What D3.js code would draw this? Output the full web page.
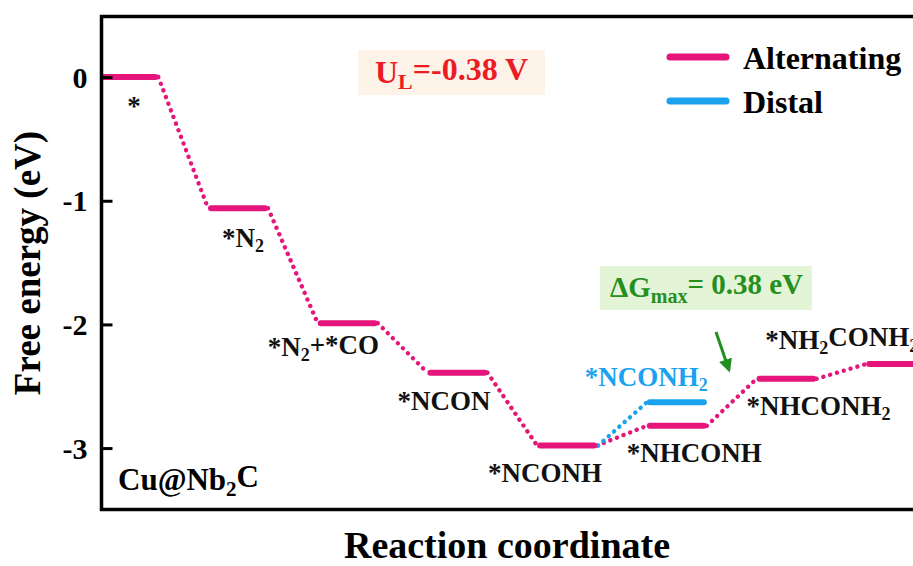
<!DOCTYPE html>
<html>
<head>
<meta charset="utf-8">
<script src="https://cdn.jsdelivr.net/npm/d3@7"></script>
<style>
  body { margin: 0; background: #fff; }
  svg { display: block; }
</style>
</head>
<body>
<div id="chart"></div>
<script>
// Reaction intermediates, in order along the reaction coordinate ("_x" = subscript x)
const states = ["*", "*N_2", "*N_2+*CO", "*NCON", "*NCONH", "*NHCONH", "*NHCONH_2", "*NH_2CONH_2"];
// Free energy of each intermediate on the alternating path (eV)
const alternating = [0, -1.06, -1.99, -2.39, -2.98, -2.82, -2.44, -2.32];
// Distal branch: step index and energy
const distalSteps = [4, 5];
const distalValues = [-2.98, -2.63];
const distalLabel = "*NCONH_2";
const yTicks = [0, -1, -2, -3];
const yTickLabels = ["0", "-1", "-2", "-3"];

const W = 913, H = 566;
const pink = "#e6157b", blue = "#1aa2ef";

const svg = d3.select("#chart").append("svg")
    .attr("width", W).attr("height", H)
    .attr("font-family", '"Liberation Serif", "Times New Roman", serif')
    .attr("font-weight", "bold");

const frame = {left: 101.5, top: 16.5, right: 930, bottom: 509.5};

const x = d3.scaleLinear().domain([0, 7]).range([98.3, 866.2]);
const y = d3.scaleLinear().domain([-3.5, 0.49]).range([509.9, 16.5]);
const levelW = 0.547; // width of a level, in step units

// write "A_2B" style strings as text with subscripts
function richText(sel, str, subSize) {
    const parts = str.split(/_(max|\w)/);
    parts.forEach((p, i) => {
        if (p === "") return;
        const t = sel.append("tspan").text(p);
        if (i % 2 === 1) {
            t.attr("font-size", subSize).attr("dy", "0.28em");
        } else if (i > 0) {
            t.attr("dy", "-0.28em");
        }
    });
    return sel;
}

svg.append("clipPath").attr("id", "plot-clip")
  .append("rect")
    .attr("x", frame.left).attr("y", frame.top)
    .attr("width", frame.right - frame.left).attr("height", frame.bottom - frame.top);

const plot = svg.append("g").attr("clip-path", "url(#plot-clip)");

// dotted connectors
const links = d3.pairs(alternating.map((v, i) => ({i, v})));
plot.selectAll(".link-alt")
    .data(links)
    .join("line")
    .attr("x1", d => x(d[0].i + levelW)).attr("y1", d => y(d[0].v))
    .attr("x2", d => x(d[1].i)).attr("y2", d => y(d[1].v))
    .attr("stroke", pink).attr("stroke-width", 4.4)
    .attr("stroke-linecap", "round").attr("stroke-dasharray", "0.1 7");

const distal = distalSteps.map((s, k) => ({i: s, v: distalValues[k]}));
plot.selectAll(".link-dis")
    .data(d3.pairs(distal))
    .join("line")
    .attr("x1", d => x(d[0].i + levelW) + 1).attr("y1", d => y(d[0].v))
    .attr("x2", d => x(d[1].i)).attr("y2", d => y(d[1].v))
    .attr("stroke", blue).attr("stroke-width", 4.4)
    .attr("stroke-linecap", "round").attr("stroke-dasharray", "0.1 7");

// energy levels
plot.selectAll(".lvl-dis")
    .data(distal.slice(1))
    .join("line")
    .attr("x1", d => x(d.i) + 3).attr("x2", d => x(d.i + levelW) - 3)
    .attr("y1", d => y(d.v)).attr("y2", d => y(d.v))
    .attr("stroke", blue).attr("stroke-width", 6).attr("stroke-linecap", "round");

plot.selectAll(".lvl-alt")
    .data(alternating)
    .join("line")
    .attr("x1", (d, i) => x(i) + 3).attr("x2", (d, i) => x(i + levelW) - 3)
    .attr("y1", d => y(d)).attr("y2", d => y(d))
    .attr("stroke", pink).attr("stroke-width", 6).attr("stroke-linecap", "round");

// state labels: [dx from level start, dy from level]
const labelOffsets = [[29, 38], [14, 39], [-50, 33], [-30, 37], [-49, 36], [-20, 36], [-10, 36], [-101, -15]];
states.forEach((s, i) => {
    const t = svg.append("text")
        .attr("x", x(i) + labelOffsets[i][0])
        .attr("y", y(alternating[i]) + labelOffsets[i][1])
        .attr("font-size", 27).attr("fill", "#111");
    richText(t, s, 18);
});
const dl = svg.append("text")
    .attr("x", x(distalSteps[1]) - 62)
    .attr("y", y(distalValues[1]) - 16)
    .attr("font-size", 27).attr("fill", blue);
richText(dl, distalLabel, 18);

// frame
svg.append("rect")
    .attr("x", frame.left).attr("y", frame.top)
    .attr("width", frame.right - frame.left).attr("height", frame.bottom - frame.top)
    .attr("fill", "none").attr("stroke", "#000").attr("stroke-width", 3.5);

// y axis ticks
const yAxis = svg.append("g").attr("transform", `translate(${frame.left},0)`)
    .call(d3.axisRight(y).tickValues(yTicks).tickSize(11).tickFormat(""));
yAxis.select(".domain").remove();
yAxis.selectAll(".tick line").attr("stroke", "#000").attr("stroke-width", 3);

svg.selectAll(".ytl")
    .data(yTicks)
    .join("text")
    .attr("x", frame.left - 14)
    .attr("y", d => y(d))
    .attr("dy", "0.35em")
    .attr("text-anchor", "end")
    .attr("font-size", 30)
    .text((d, i) => yTickLabels[i]);

// axis titles
svg.append("text")
    .attr("transform", `translate(40,263) rotate(-90)`)
    .attr("text-anchor", "middle")
    .attr("font-size", 37)
    .text("Free energy (eV)");

svg.append("text")
    .attr("x", 507).attr("y", 558)
    .attr("text-anchor", "middle")
    .attr("font-size", 38)
    .text("Reaction coordinate");

// system label
richText(svg.append("text").attr("x", 118).attr("y", 490).attr("font-size", 31), "Cu@Nb_2C", 21);

// U_L box
svg.append("rect").attr("x", 358).attr("y", 50).attr("width", 187).attr("height", 45).attr("fill", "#fdf3e8");
richText(svg.append("text").attr("x", 375).attr("y", 83).attr("font-size", 32).attr("fill", "#ec1c24"),
    "U_L=-0.38 V", 22);

// dG max box
svg.append("rect").attr("x", 600).attr("y", 266).attr("width", 212).attr("height", 44).attr("fill", "#e4f4d6");
richText(svg.append("text").attr("x", 610).attr("y", 297).attr("font-size", 29).attr("fill", "#259020"),
    "ΔG_max= 0.38 eV", 20);

// arrow
svg.append("defs").append("marker")
    .attr("id", "arrow").attr("viewBox", "0 0 10 10")
    .attr("refX", 8).attr("refY", 5)
    .attr("markerWidth", 4.5).attr("markerHeight", 4.5)
    .attr("orient", "auto")
  .append("path").attr("d", "M0,0 L10,5 L0,10 Z").attr("fill", "#1f8f1f");
svg.append("line")
    .attr("x1", 716).attr("y1", 332).attr("x2", 729).attr("y2", 370)
    .attr("stroke", "#1f8f1f").attr("stroke-width", 3)
    .attr("marker-end", "url(#arrow)");

// legend
const legend = [{name: "Alternating", color: pink}, {name: "Distal", color: blue}];
const lg = svg.selectAll(".lg").data(legend).join("g")
    .attr("transform", (d, i) => `translate(667,${57 + i * 44})`);
lg.append("line").attr("x1", 3).attr("x2", 59)
    .attr("stroke", d => d.color).attr("stroke-width", 7).attr("stroke-linecap", "round");
lg.append("text").attr("x", 76).attr("y", 12)
    .attr("font-size", 32).text(d => d.name);
</script>
</body>
</html>
